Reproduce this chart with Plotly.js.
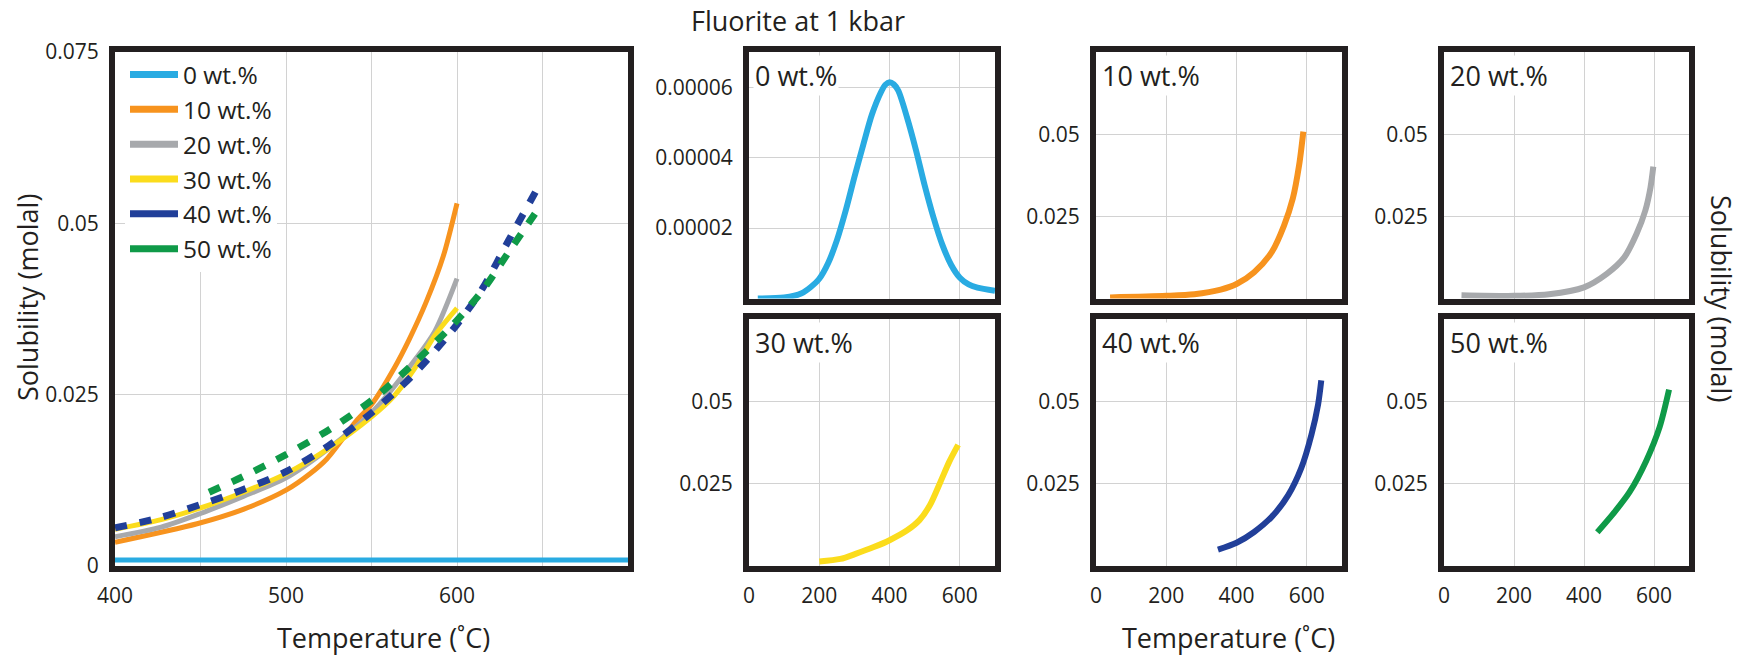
<!DOCTYPE html>
<html>
<head>
<meta charset="utf-8">
<script src="https://cdn.plot.ly/plotly-3.0.1.min.js"></script>
<style>html,body{margin:0;padding:0;background:#fff;}#chart{width:1747px;height:656px;}</style>
</head>
<body>
<div id="chart"></div>
<script>
// ---------- data ----------
const seriesNames = ['0 wt.%', '10 wt.%', '20 wt.%', '30 wt.%', '40 wt.%', '50 wt.%'];

// main panel (400-700 °C)
const main0_T = [400, 500, 600, 700];
const main0_S = [0.0008, 0.0008, 0.0008, 0.0008];
const main10_T = [400, 448, 475, 500, 514, 524, 541, 550, 563, 572, 582, 592, 600];
const main10_S = [0.0034, 0.0061, 0.0082, 0.0110, 0.0134, 0.0156, 0.0211, 0.0235, 0.0287, 0.0330, 0.0385, 0.0452, 0.0529];
const main20_T = [400, 427, 450, 475, 500, 525, 550, 575, 587, 600];
const main20_S = [0.0042, 0.0056, 0.0076, 0.0101, 0.0128, 0.0171, 0.0223, 0.0299, 0.0342, 0.0419];
const main30_T = [400, 427, 450, 475, 500, 525, 550, 563, 575, 587, 600];
const main30_S = [0.0053, 0.0067, 0.0084, 0.0107, 0.0134, 0.0171, 0.0217, 0.0247, 0.0287, 0.0336, 0.0376];
const main40_T = [400, 425, 450, 475, 500, 525, 550, 575, 600, 615, 630, 648];
const main40_S = [0.0055, 0.0069, 0.0089, 0.0111, 0.0137, 0.0175, 0.0223, 0.0280, 0.0352, 0.0405, 0.0474, 0.0555];
const main50_T = [455, 475, 500, 525, 550, 575, 600, 615, 630, 650];
const main50_S = [0.0107, 0.0130, 0.0162, 0.0198, 0.0241, 0.0296, 0.0358, 0.0402, 0.0457, 0.0530];

// small panels (0-700 °C)
const p0_T = [25, 100, 150, 175, 200, 225, 250, 275, 300, 325, 350, 375, 388, 400, 412, 425, 450, 475, 500, 525, 550, 575, 600, 625, 650, 700];
const p0_S = [0, 3e-7, 1.5e-6, 3.2e-6, 5.6e-6, 1.0e-5, 1.65e-5, 2.49e-5, 3.45e-5, 4.36e-5, 5.23e-5, 5.85e-5, 6.07e-5, 6.14e-5, 6.08e-5, 5.9e-5, 5.13e-5, 4.22e-5, 3.21e-5, 2.3e-5, 1.53e-5, 9.6e-6, 5.9e-6, 4.0e-6, 3.1e-6, 2.2e-6];
const p10_T = [40, 200, 280, 355, 400, 450, 500, 535, 560, 578, 590];
const p10_S = [0.0003, 0.0008, 0.0013, 0.0027, 0.0044, 0.0080, 0.0141, 0.0222, 0.0304, 0.0406, 0.0508];
const p20_T = [50, 200, 300, 400, 465, 515, 550, 575, 590, 598];
const p20_S = [0.0010, 0.0008, 0.0013, 0.0034, 0.0075, 0.0125, 0.0196, 0.0267, 0.0338, 0.0401];
const p30_T = [200, 260, 305, 355, 400, 450, 485, 515, 545, 570, 595];
const p30_S = [0.0012, 0.0020, 0.0036, 0.0056, 0.0077, 0.0107, 0.0138, 0.0184, 0.0255, 0.0316, 0.0367];
const p40_T = [347, 400, 450, 500, 547, 584, 613, 632, 641];
const p40_S = [0.0048, 0.0069, 0.0102, 0.0148, 0.0214, 0.0296, 0.0398, 0.0490, 0.0563];
const p50_T = [438, 483, 530, 578, 616, 643];
const p50_S = [0.0101, 0.0157, 0.0223, 0.0319, 0.0421, 0.0535];

// tick labels
const mainXTicks = [400, 450, 500, 550, 600, 650];
const mainXText = ['400', '', '500', '', '600', ''];
const mainYTicks = [0, 0.025, 0.05, 0.075];
const mainYText = ['0', '0.025', '0.05', '0.075'];
const panelXTicks = [0, 200, 400, 600];
const panelXText = ['0', '200', '400', '600'];
const p0YTicks = [0.00002, 0.00004, 0.00006];
const p0YText = ['0.00002', '0.00004', '0.00006'];
const panelYTicks = [0.025, 0.05];
const panelYText = ['0.025', '0.05'];

// ---------- styling ----------
const colors = ['#29abe2', '#f7931e', '#a7a9ac', '#fbdc1c', '#213f99', '#0f9a48'];
const W = 1747, H = 656;
const FONT = 'Open Sans, Noto Sans, sans-serif';
const INK = '#231f20';
const dx = (a, b) => [a / W, b / W];
const dy = (top, bottom) => [1 - bottom / H, 1 - top / H];

const traces = [];
function addLine(x, y, i, xa, ya, opts) {
  opts = opts || {};
  traces.push({
    type: 'scatter', mode: 'lines', x: x, y: y, xaxis: xa, yaxis: ya,
    name: seriesNames[i], showlegend: false, hoverinfo: 'skip',
    line: {color: colors[i], width: opts.width || 6, dash: opts.dash || 'solid', shape: 'spline', smoothing: 0.8}
  });
}
// main panel
addLine(main0_T, main0_S, 0, 'x', 'y', {width: 5});
addLine(main10_T, main10_S, 1, 'x', 'y', {width: 5});
addLine(main20_T, main20_S, 2, 'x', 'y', {width: 5});
addLine(main30_T, main30_S, 3, 'x', 'y', {width: 5});
addLine(main40_T, main40_S, 4, 'x', 'y', {width: 7, dash: '12px,13px'});
addLine(main50_T, main50_S, 5, 'x', 'y', {width: 7, dash: '12px,13px'});
// legend entries (solid swatches, as in the reference legend)
seriesNames.forEach((n, i) => {
  traces.push({type: 'scatter', mode: 'lines', x: [null], y: [null], xaxis: 'x', yaxis: 'y',
    name: n, showlegend: true, line: {color: colors[i], width: 7}});
});
// small panels
addLine(p0_T, p0_S, 0, 'x2', 'y2');
addLine(p10_T, p10_S, 1, 'x3', 'y3');
addLine(p20_T, p20_S, 2, 'x4', 'y4');
addLine(p30_T, p30_S, 3, 'x5', 'y5');
addLine(p40_T, p40_S, 4, 'x6', 'y6');
addLine(p50_T, p50_S, 5, 'x7', 'y7');

const axBase = {
  showline: true, mirror: true, linewidth: 6, linecolor: INK,
  showgrid: true, gridcolor: '#d2d2d2', gridwidth: 1, zeroline: false,
  ticks: '', tickfont: {family: FONT, size: 21, color: INK}, fixedrange: true,
  tickmode: 'array'
};
function xax(domain, anchor, labels) {
  return Object.assign({}, axBase, {domain: domain, anchor: anchor, range: [0, 700],
    tickvals: panelXTicks, ticktext: panelXText, showticklabels: labels, ticklabelstandoff: 6});
}
function yax(domain, anchor, tv, tt, rng) {
  return Object.assign({}, axBase, {domain: domain, anchor: anchor, range: rng,
    tickvals: tv, ticktext: tt, ticklabelstandoff: 6});
}

const col1 = dx(749, 995), col2 = dx(1096, 1342), col3 = dx(1444, 1689);
const row1 = dy(52, 298.5), row2 = dy(319, 565.5);

const layout = {
  width: W, height: H, margin: {l: 0, r: 0, t: 0, b: 0},
  paper_bgcolor: '#ffffff', plot_bgcolor: '#ffffff',
  font: {family: FONT, color: INK},
  title: {text: 'Fluorite at 1 kbar', x: 798 / W, xanchor: 'center', y: 1 - 22 / H, yanchor: 'middle',
    font: {family: FONT, size: 27, color: INK}},
  showlegend: true,
  legend: {x: 125 / W, y: 1 - 52 / H, xanchor: 'left', yanchor: 'top', bgcolor: '#ffffff',
    borderwidth: 0, font: {family: FONT, size: 24.5, color: INK}, itemwidth: 48, tracegroupgap: 0},
  xaxis: Object.assign({}, axBase, {domain: dx(115, 628), anchor: 'y', range: [400, 700],
    tickvals: mainXTicks, ticktext: mainXText, ticklabelstandoff: 6}),
  yaxis: Object.assign({}, axBase, {domain: dy(52, 565.5), anchor: 'x', range: [0, 0.075],
    tickvals: mainYTicks, ticktext: mainYText, ticklabelstandoff: 6}),
  xaxis2: xax(col1, 'y2', false), yaxis2: yax(row1, 'x2', p0YTicks, p0YText, [0, 0.00007]),
  xaxis3: xax(col2, 'y3', false), yaxis3: yax(row1, 'x3', panelYTicks, panelYText, [0, 0.075]),
  xaxis4: xax(col3, 'y4', false), yaxis4: yax(row1, 'x4', panelYTicks, panelYText, [0, 0.075]),
  xaxis5: xax(col1, 'y5', true), yaxis5: yax(row2, 'x5', panelYTicks, panelYText, [0, 0.075]),
  xaxis6: xax(col2, 'y6', true), yaxis6: yax(row2, 'x6', panelYTicks, panelYText, [0, 0.075]),
  xaxis7: xax(col3, 'y7', true), yaxis7: yax(row2, 'x7', panelYTicks, panelYText, [0, 0.075]),
  annotations: []
};

// panel labels
[2, 3, 4, 5, 6, 7].forEach((k, i) => {
  layout.annotations.push({
    xref: 'x' + k + ' domain', yref: 'y' + k + ' domain', x: 0, y: 1, xanchor: 'left', yanchor: 'top',
    xshift: 4, yshift: -3, showarrow: false, bgcolor: '#ffffff', borderpad: 1,
    text: seriesNames[i], font: {family: FONT, size: 27, color: INK}
  });
});
// axis titles
const tfont = {family: FONT, size: 27, color: INK};
layout.annotations.push(
  {xref: 'paper', yref: 'paper', x: 383 / W, y: 1 - 637 / H, xanchor: 'center', yanchor: 'middle',
   showarrow: false, text: 'Temperature (˚C)', font: tfont},
  {xref: 'paper', yref: 'paper', x: 1228 / W, y: 1 - 637 / H, xanchor: 'center', yanchor: 'middle',
   showarrow: false, text: 'Temperature (˚C)', font: tfont},
  {xref: 'paper', yref: 'paper', x: 27 / W, y: 1 - 298 / H, xanchor: 'center', yanchor: 'middle',
   showarrow: false, textangle: -90, text: 'Solubility (molal)', font: tfont},
  {xref: 'paper', yref: 'paper', x: 1722 / W, y: 1 - 298 / H, xanchor: 'center', yanchor: 'middle',
   showarrow: false, textangle: 90, text: 'Solubility (molal)', font: tfont}
);

Plotly.newPlot('chart', traces, layout, {staticPlot: true, displayModeBar: false});
</script>
</body>
</html>
